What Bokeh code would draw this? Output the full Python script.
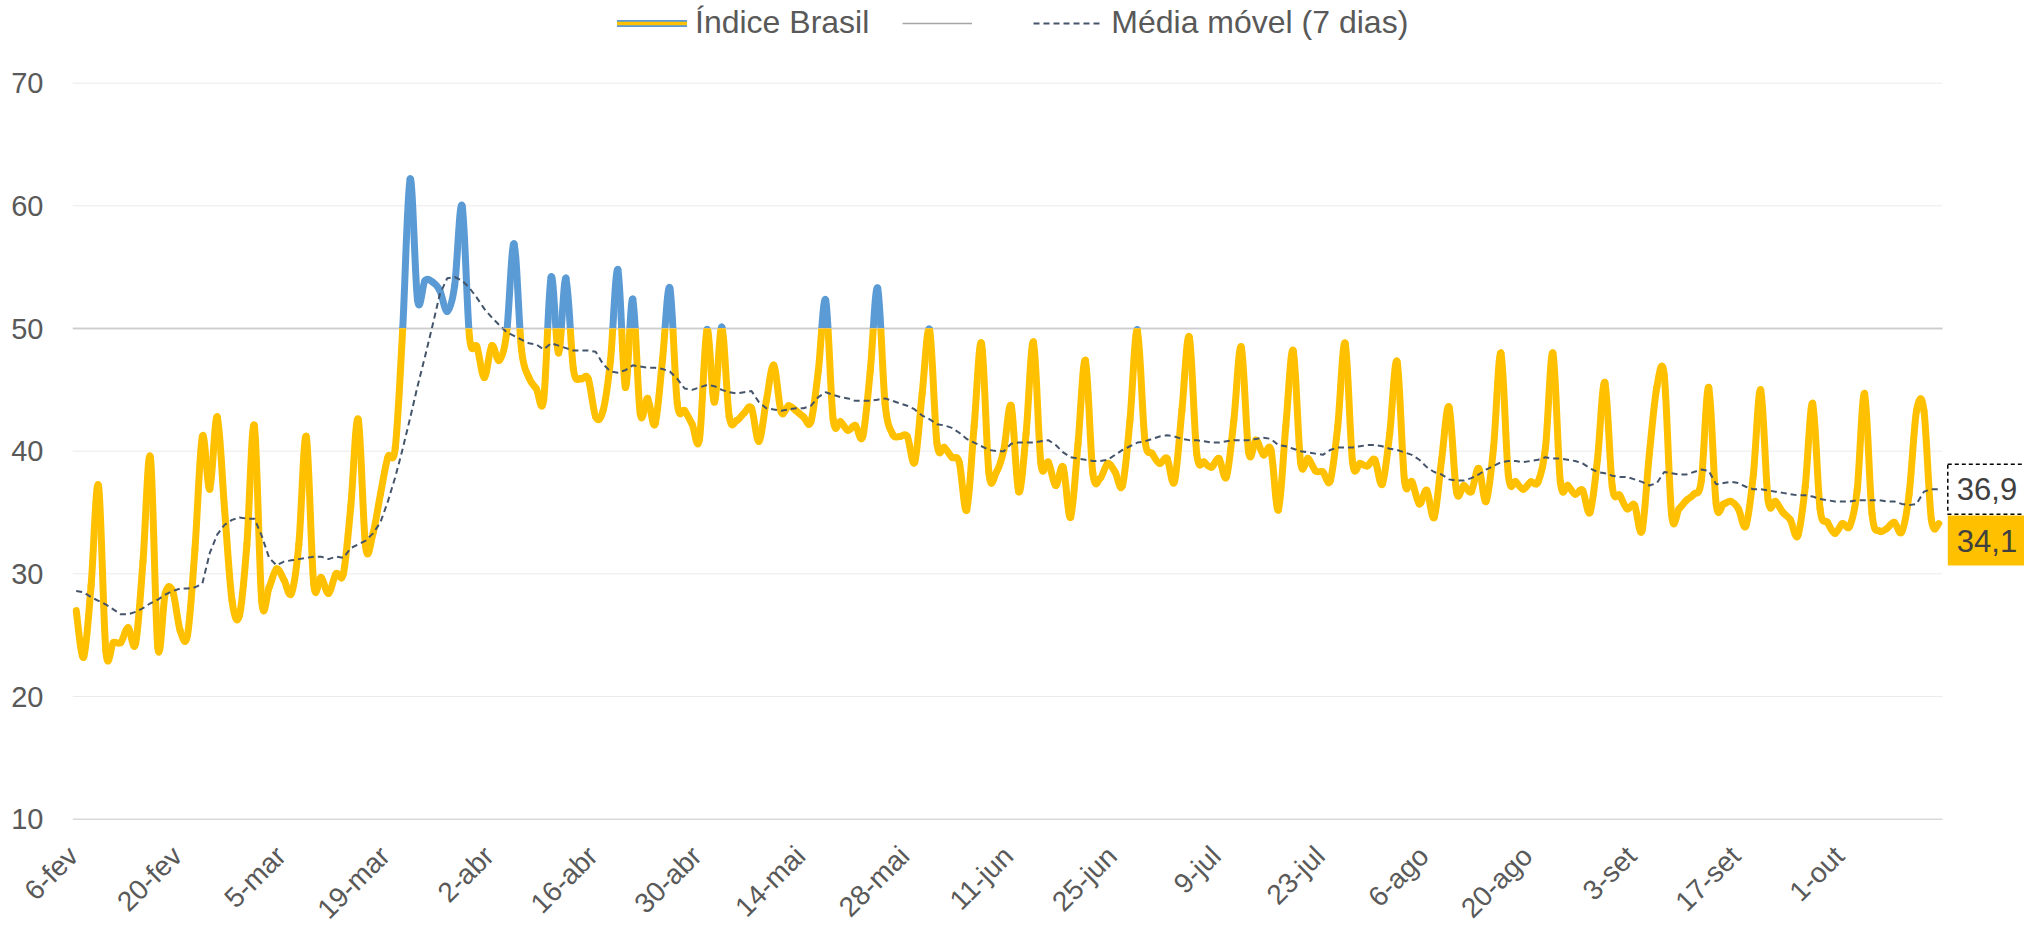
import numpy as np
from bokeh.plotting import figure
from bokeh.models import (ColumnDataSource, Range1d, Legend, LegendItem, Label)
from bokeh.core.properties import value
from bokeh.layouts import column, row
from bokeh.embed import file_html
from bokeh.resources import INLINE

# ---------------- data ----------------
indice_brasil = [
    27.0, 23.2, 29.0, 37.2, 23.7, 24.4, 24.4, 25.6, 24.3, 31.0,
    39.5, 24.0, 28.4, 28.6, 25.4, 25.0, 32.0, 41.2, 36.9, 42.8,
    35.2, 27.8, 26.6, 32.4, 42.1, 27.8, 28.9, 30.4, 29.5, 28.4,
    32.4, 41.2, 29.2, 29.7, 28.4, 30.0, 30.0, 35.5, 42.6, 32.2,
    33.3, 36.5, 39.5, 40.3, 50.0, 62.2, 52.3, 53.9, 53.8, 53.1,
    51.4, 53.5, 60.0, 49.3, 48.5, 46.0, 48.6, 47.4, 49.6, 56.9,
    48.3, 46.0, 45.1, 44.2, 54.2, 48.0, 54.1, 46.7, 45.9, 45.9,
    42.8, 43.3, 47.4, 54.8, 45.2, 52.4, 43.1, 44.3, 42.2, 47.4,
    53.3, 43.9, 43.3, 42.2, 41.0, 49.9, 44.0, 50.1, 42.8, 42.5,
    43.1, 43.5, 40.8, 44.1, 47.0, 43.2, 43.7, 43.3, 42.8, 42.4,
    46.5, 52.3, 42.6, 42.4, 41.7, 42.1, 41.2, 46.5, 53.3, 43.9,
    41.4, 41.2, 41.2, 39.1, 44.7, 49.9, 40.6, 40.3, 39.5, 39.1,
    35.2, 42.0, 48.8, 38.2, 38.3, 40.1, 43.7, 36.7, 41.4, 48.9,
    39.0, 39.1, 37.2, 38.7, 34.6, 40.6, 47.4, 38.2, 37.8, 39.0,
    38.3, 37.2, 42.5, 49.9, 41.0, 39.8, 39.0, 39.4, 37.5, 43.3,
    49.3, 39.8, 39.1, 38.7, 39.4, 37.9, 42.5, 48.5, 39.9, 40.9,
    39.7, 40.1, 35.2, 42.0, 48.2, 39.1, 39.4, 38.4, 38.3, 37.6,
    42.0, 48.8, 39.1, 39.0, 38.8, 39.3, 37.3, 41.4, 47.3, 37.6,
    37.5, 35.7, 36.8, 34.6, 39.3, 43.6, 36.7, 37.2, 36.7, 38.6,
    35.9, 40.3, 48.0, 38.0, 37.5, 36.9, 37.5, 37.5, 40.3, 48.0,
    37.5, 37.2, 36.5, 36.8, 35.0, 39.3, 45.6, 37.1, 36.4, 35.3,
    35.6, 33.5, 39.8, 45.2, 46.2, 34.8, 35.3, 36.0, 36.5, 37.6,
    45.2, 35.7, 35.7, 35.9, 35.3, 33.9, 38.0, 45.0, 36.0, 35.9,
    35.0, 34.4, 33.1, 37.1, 43.9, 35.3, 34.2, 33.3, 34.1, 33.9,
    36.8, 44.7, 34.9, 33.5, 33.7, 34.2, 33.4, 36.5, 43.3, 43.3,
    34.4, 34.1,
]

media_movel = [
    28.6, 28.5, 28.1, 27.8, 27.5, 27.1, 26.7, 26.7, 26.9, 27.2,
    27.6, 27.9, 28.3, 28.6, 28.8, 28.8, 28.9, 29.2, 31.7, 33.2,
    34.0, 34.4, 34.6, 34.5, 34.5, 33.1, 31.3, 30.7, 31.0, 31.1,
    31.2, 31.3, 31.4, 31.4, 31.2, 31.4, 31.3, 32.1, 32.4, 32.7,
    33.3, 34.2, 35.9, 37.9, 40.2, 42.7, 45.3, 47.7, 50.2, 52.8,
    54.1, 54.2, 53.9, 53.3, 52.5, 51.6, 50.9, 50.3, 49.7, 49.4,
    49.1, 48.8, 48.7, 48.3, 48.8, 48.6, 48.4, 48.2, 48.2, 48.2,
    48.1, 47.1, 46.5, 46.4, 46.6, 47.0, 46.9, 46.8, 46.8, 46.7,
    46.5, 45.9, 45.1, 45.0, 45.2, 45.4, 45.3, 45.0, 44.8, 44.7,
    44.8, 44.9, 44.0, 43.5, 43.4, 43.3, 43.4, 43.5, 43.5, 43.7,
    44.4, 44.8, 44.6, 44.4, 44.3, 44.1, 44.1, 44.1, 44.2, 44.3,
    44.1, 43.9, 43.7, 43.4, 42.9, 42.6, 42.2, 42.1, 41.9, 41.5,
    41.0, 40.7, 40.4, 40.1, 40.0, 40.0, 40.6, 40.7, 40.7, 40.7,
    40.8, 40.9, 40.5, 39.9, 39.5, 39.4, 39.3, 39.2, 39.2, 39.3,
    39.7, 40.1, 40.4, 40.7, 40.8, 41.0, 41.2, 41.3, 41.2, 41.0,
    40.9, 40.9, 40.8, 40.7, 40.7, 40.8, 40.9, 40.9, 40.9, 41.0,
    41.1, 41.0, 40.5, 40.4, 40.2, 40.0, 39.9, 39.8, 39.7, 40.1,
    40.3, 40.3, 40.3, 40.4, 40.5, 40.5, 40.4, 40.2, 40.1, 39.9,
    39.7, 39.3, 38.7, 38.3, 38.1, 37.7, 37.6, 37.6, 37.8, 38.1,
    38.5, 38.8, 39.1, 39.2, 39.2, 39.1, 39.2, 39.3, 39.5, 39.4,
    39.4, 39.3, 39.2, 39.0, 38.6, 38.3, 38.2, 38.0, 37.9, 37.9,
    37.7, 37.5, 37.2, 37.4, 38.3, 38.2, 38.1, 38.1, 38.3, 38.5,
    38.4, 37.3, 37.4, 37.5, 37.4, 37.1, 36.9, 36.9, 36.8, 36.7,
    36.6, 36.5, 36.4, 36.4, 36.3, 36.1, 36.0, 35.9, 35.9, 35.9,
    36.0, 36.0, 36.0, 36.0, 35.9, 35.9, 35.7, 35.6, 35.7, 36.7,
    36.9, 36.9,
]

tick_days = [0, 14, 28, 42, 56, 70, 84, 98, 112, 126, 140, 154, 168, 182,
             196, 210, 224, 238]
tick_labels = ["6-fev", "20-fev", "5-mar", "19-mar", "2-abr", "16-abr",
               "30-abr", "14-mai", "28-mai", "11-jun", "25-jun", "9-jul",
               "23-jul", "6-ago", "20-ago", "3-set", "17-set", "1-out"]
y_ticks = [10, 20, 30, 40, 50, 60, 70]
limiar = 50
y_min, y_max = 10, 70
label_indice = "34,1"
label_media = "36,9"

assert len(indice_brasil) == len(media_movel)

# ---------------- style ----------------
FONT = "Liberation Sans"
YELLOW = "#FFC000"
BLUE = "#5B9BD5"
MA_COLOR = "#44546A"
REF_COLOR = "#A6A6A6"
GRID = "#EBEBEB"
AXIS = "#D9D9D9"
TXT = "#595959"

n = len(indice_brasil)
src = ColumnDataSource(dict(x=list(range(n)), y=indice_brasil, m=media_movel))

# smoothed rendering of the index line (Bezier segments through the data
# points, as in a "smoothed line" chart); the curve passes through every value
xs = np.arange(n, dtype=float)
ys = np.asarray(indice_brasil, dtype=float)
k = np.arange(n - 1)
km1 = np.clip(k - 1, 0, n - 1)
kp2 = np.clip(k + 2, 0, n - 1)
curve = ColumnDataSource(dict(
    x0=xs[k], y0=ys[k], x1=xs[k + 1], y1=ys[k + 1],
    cx0=xs[k] + (xs[k + 1] - xs[km1]) / 6, cy0=ys[k] + (ys[k + 1] - ys[km1]) / 6,
    cx1=xs[k + 1] - (xs[kp2] - xs[k]) / 6, cy1=ys[k + 1] - (ys[kp2] - ys[k]) / 6,
))

# ---------------- geometry (pixels) ----------------
W = 2024
LEFT = 72                    # width of the y-label column
PLOT_RIGHT = W - 1942        # space right of the data area
PLOT_H = 736                 # 10..70
TOP_PX = 328                 # rows: above threshold / below threshold / x labels
MID_PX = 510
STRIP_PX = 90
px_x = (W - LEFT - PLOT_RIGHT) / n
px_y = PLOT_H / (y_max - y_min)
x_lo, x_hi = -0.5, n - 0.5

y_top_hi = limiar + TOP_PX / px_y
y_mid_lo = limiar - MID_PX / px_y
y_strip_lo = y_mid_lo - STRIP_PX / px_y


def base(width, height, xr, yr):
    p = figure(width=width, height=height, x_range=xr, y_range=yr,
               output_backend="svg", toolbar_location=None, min_border=0,
               x_axis_location=None, y_axis_location=None)
    p.outline_line_color = None
    p.background_fill_color = "white"
    p.border_fill_color = "white"
    p.grid.visible = False
    return p


def data_panel(height, y0, y1):
    p = base(W - LEFT, height, Range1d(x_lo, x_hi + PLOT_RIGHT / px_x),
             Range1d(y0, y1))
    ticks = [t for t in y_ticks if y0 <= t <= y1]
    p.segment(x0=[x_lo] * len(ticks), x1=[x_hi] * len(ticks),
              y0=ticks, y1=ticks,
              line_color=[AXIS if t == y_min else GRID for t in ticks],
              line_width=[1.5 if t == y_min else 1 for t in ticks])
    ref = p.segment(x0=[x_lo], x1=[x_hi], y0=[limiar], y1=[limiar],
                    line_color=REF_COLOR, line_width=1.5)
    return p, ref


top, ref_top = data_panel(TOP_PX, limiar, y_top_hi)
mid, _ = data_panel(MID_PX, y_mid_lo, limiar)

BZ = dict(x0="x0", y0="y0", x1="x1", y1="y1", cx0="cx0", cy0="cy0",
          cx1="cx1", cy1="cy1", source=curve, line_cap="round")

# main series: blue above the threshold, yellow below (each frame clips it)
yel_top = top.bezier(line_color=YELLOW, line_width=3.5, **BZ)   # hidden under blue
blue_top = top.bezier(line_color=BLUE, line_width=7, **BZ)
mid.bezier(line_color=YELLOW, line_width=7, **BZ)

ma_top = top.line("x", "m", source=src, line_color=MA_COLOR, line_width=2,
                  line_dash="6 4")
mid.line("x", "m", source=src, line_color=MA_COLOR, line_width=2,
         line_dash="6 4")

# y tick labels (own column, so no label is split)
left = base(LEFT, TOP_PX + MID_PX, Range1d(0, 1), Range1d(y_mid_lo, y_top_hi))
left.text(x=[1] * len(y_ticks), y=y_ticks, text=[str(t) for t in y_ticks],
          x_offset=-29, text_align="right", text_baseline="middle",
          text_font=value(FONT), text_font_size="29px", text_color=TXT)

# x tick labels (rotated) in a full-width strip
strip = base(W, STRIP_PX, Range1d(x_lo - LEFT / px_x, x_hi + PLOT_RIGHT / px_x),
             Range1d(y_strip_lo, y_mid_lo))
strip.text(x=tick_days, y=[y_min] * len(tick_days), text=tick_labels,
           angle=np.pi / 4, x_offset=-3, y_offset=32,
           text_align="right", text_baseline="middle",
           text_font=value(FONT), text_font_size="28px", text_color=TXT)

# legend
legend = Legend(items=[
    LegendItem(label="Índice Brasil", renderers=[blue_top, yel_top]),
    LegendItem(label=" ", renderers=[ref_top]),
    LegendItem(label="Média móvel (7 dias)", renderers=[ma_top]),
], orientation="horizontal", location=(617 - LEFT, 287),
    label_text_font=FONT, label_text_font_size="32px", label_text_color=TXT,
    glyph_width=70, glyph_height=30, label_height=30, label_standoff=8,
    spacing=33, padding=0, margin=0,
    background_fill_alpha=0, border_line_color=None)
top.add_layout(legend)

# end-of-series labels
pad = dict(left=9, right=9, top=14, bottom=14)
mid.add_layout(Label(x=n - 1, y=media_movel[-1], x_offset=9, text=label_media,
                     text_align="left", text_baseline="middle",
                     text_font=FONT, text_font_size="31px", text_color="#404040",
                     background_fill_color="white",
                     border_line_color="black", border_line_dash="4 3",
                     border_line_width=1.5, padding=pad))
mid.add_layout(Label(x=n - 1, y=indice_brasil[-1], x_offset=9, y_offset=-17,
                     text=label_indice,
                     text_align="left", text_baseline="middle",
                     text_font=FONT, text_font_size="31px", text_color="#404040",
                     background_fill_color=YELLOW, border_line_color=None,
                     padding=pad))

layout = column(row(left, column(top, mid, spacing=0), spacing=0), strip,
                spacing=0)
open("out.html", "w").write(file_html(layout, INLINE))
